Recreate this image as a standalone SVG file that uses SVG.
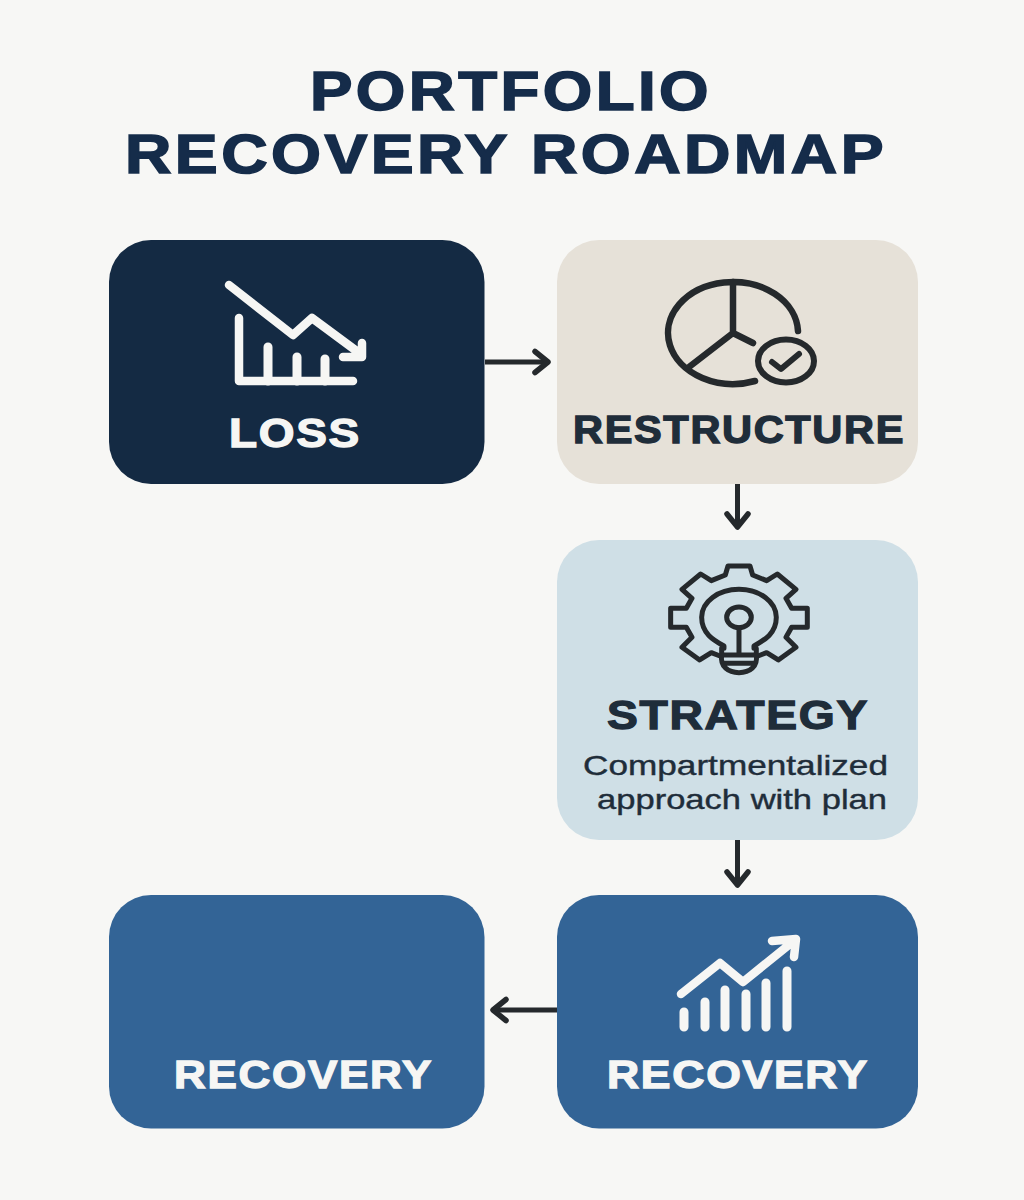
<svg xmlns="http://www.w3.org/2000/svg" width="1024" height="1200" viewBox="0 0 1024 1200">
<style>
text{font-family:"Liberation Sans",Arial,sans-serif;font-weight:700}
.title{font-size:56px;fill:#152c4a;stroke:#152c4a;stroke-width:1.600;letter-spacing:3px}
.lg{font-size:41px;stroke-width:1.300;letter-spacing:1.500px}
.w{fill:#f6f6f4;stroke:#f6f6f4}
.d{fill:#1f2d3a;stroke:#1f2d3a}
.sub{font-size:28px;font-weight:400;fill:#1f2d3a;stroke:#1f2d3a;stroke-width:.4}
.iw{fill:none;stroke:#f6f6f4;stroke-width:8.500;stroke-linecap:round;stroke-linejoin:round}
.bars{stroke-width:9}
.id{fill:none;stroke:#25292c;stroke-width:6.500;stroke-linecap:round;stroke-linejoin:round}
.conn{fill:none;stroke:#25292c;stroke-width:5;marker-end:url(#ah)}
</style>
<defs>
<marker id="ah" markerUnits="userSpaceOnUse" markerWidth="24" markerHeight="32" refX="18" refY="14" orient="auto" viewBox="0 0 24 32">
<path d="M5 3.500L18 14L5 24.500" fill="none" stroke="#25292c" stroke-width="5.500" stroke-linecap="round" stroke-linejoin="round"/>
</marker>
</defs>
<rect width="1024" height="1200" fill="#f7f7f5"/>
<g id="title">
<text class="title" x="310" y="110" textLength="402" lengthAdjust="spacingAndGlyphs">PORTFOLIO</text>
<text class="title" x="125" y="173" textLength="762" lengthAdjust="spacingAndGlyphs">RECOVERY ROADMAP</text>
</g>
<g id="connectors">
<path class="conn" d="M485 362H548"/>
<path class="conn" d="M737.500 484V527"/>
<path class="conn" d="M737.500 840V885"/>
<path class="conn" d="M557 1010H493"/>
</g>
<g id="loss">
<rect x="109" y="240" width="375.500" height="244" rx="42" fill="#142a43"/>
<path class="iw" d="M229 285L293 335L312 318L362 355M343 357H362V343M239 318V381H353"/>
<path class="iw bars" d="M268 347V381M297 357V381M325 359V381"/>
<text class="lg w" x="229" y="447" textLength="132" lengthAdjust="spacingAndGlyphs">LOSS</text>
</g>
<g id="restructure">
<rect x="557" y="240" width="361" height="244" rx="42" fill="#e6e1d8"/>
<path class="id" d="M798 331A65 51 0 1 0 755 381M733 282V333L689 367M733 333L753 343"/>
<ellipse class="id" cx="786" cy="361" rx="28" ry="21.500" style="stroke-width:6"/>
<path class="id" d="M772 362L781 369L799 354" style="stroke-width:6"/>
<text class="lg d" style="font-size:38px" x="573" y="443" textLength="332" lengthAdjust="spacingAndGlyphs">RESTRUCTURE</text>
</g>
<g id="strategy">
<rect x="557" y="540" width="361" height="300" rx="42" fill="#cfdfe6"/>
<g transform="translate(550 540) scale(.3333)" class="id" style="stroke-width:15">
<path d="M510 348L484 338L449 360L396 322L426 292L409 262L362 262L362 205L409 205L426 175L396 148L452 102L484 122L526 105L534 78L600 78L608 105L650 122L682 102L738 148L708 175L725 205L772 205L772 262L725 262L708 292L738 322L685 360L650 338L624 348"/>
<path d="M522 325V318C490 300 455 280 455 232C455 185 505 148 567 148C629 148 679 185 679 232C679 280 644 300 612 318V325"/>
<ellipse cx="567" cy="232" rx="37" ry="31"/>
<path d="M567 263V345M515 325V345H619V325M515 345C510 380 535 398 567 398C599 398 624 380 619 345M520 370H614"/>
</g>
<text class="lg d" x="607" y="729" textLength="262" lengthAdjust="spacingAndGlyphs">STRATEGY</text>
<text class="sub" x="583" y="775" textLength="305" lengthAdjust="spacingAndGlyphs">Compartmentalized</text>
<text class="sub" x="597" y="809" textLength="290" lengthAdjust="spacingAndGlyphs">approach with plan</text>
</g>
<g id="recovery-right">
<rect x="557" y="895" width="361" height="233.500" rx="42" fill="#336496"/>
<path class="iw" d="M681 994L720 963L743 982L795 940M772 941L796 939L794 957"/>
<path class="iw bars" d="M684 1012V1027M705 1002V1027M725 990V1027M746 994V1027M766 983V1027M787 971V1027"/>
<text class="lg w" style="font-size:39px" x="607" y="1088" textLength="262" lengthAdjust="spacingAndGlyphs">RECOVERY</text>
</g>
<g id="recovery-left">
<rect x="109" y="895" width="375.500" height="233.500" rx="42" fill="#336496"/>
<text class="lg w" style="font-size:39px" x="174" y="1088" textLength="259" lengthAdjust="spacingAndGlyphs">RECOVERY</text>
</g>
</svg>
